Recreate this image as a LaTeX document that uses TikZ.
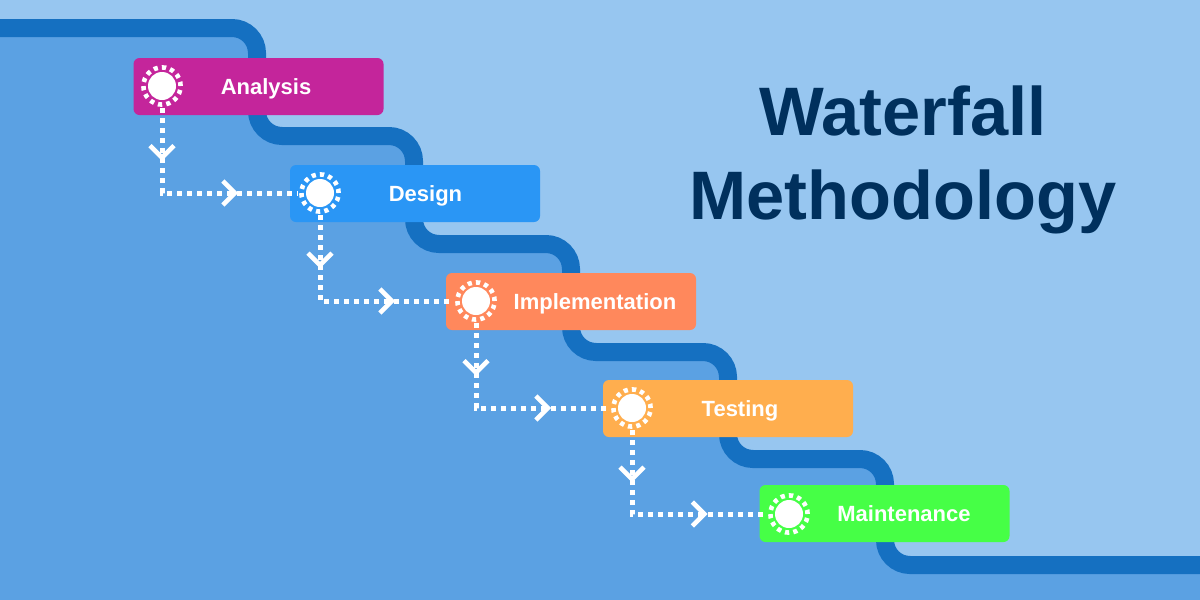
\documentclass[tikz,border=0pt]{standalone}
\usepackage{fontspec}
\setmainfont{Liberation Sans}
\usetikzlibrary{calc}
\definecolor{bglight}{HTML}{97C6F0}
\definecolor{bgmid}{HTML}{5BA1E3}
\definecolor{stairblue}{HTML}{1570C1}
\definecolor{titleblue}{HTML}{00305D}
\definecolor{cana}{HTML}{C4259B}
\definecolor{cdes}{HTML}{2A96F5}
\definecolor{cimp}{HTML}{FF885C}
\definecolor{ctes}{HTML}{FFAE4E}
\definecolor{cmai}{HTML}{46FF46}
\tikzset{
  phasebox/.style={rectangle, rounded corners=6pt, minimum width=250pt, minimum height=57pt, inner sep=0pt},
  disc/.style={circle, fill=white, minimum size=28pt, inner sep=0pt},
  halo/.style={circle, minimum size=44pt, inner sep=0pt},
  ring/.style={draw=white, line width=4.6pt, dash pattern=on 4.2pt off 4.15pt},
  phaselabel/.style={text=white, font=\fontsize{22}{24}\selectfont\bfseries, anchor=base, inner sep=0pt},
  flow/.style={draw=white, line width=5pt, dash pattern=on 5pt off 5pt},
  chev/.style={draw=white, line width=4.5pt},
  stair/.style={draw=stairblue, line width=18pt, rounded corners=25pt},
  titletext/.style={text=titleblue, font=\fontsize{68.6}{70}\selectfont\bfseries, anchor=base, inner sep=0pt}
}
\begin{document}
\begin{tikzpicture}[x=1pt,y=-1pt]
\useasboundingbox (0,0) rectangle (1200,600);
\fill[bglight] (0,0) rectangle (1200,600);
% lower-left region
\fill[bgmid, rounded corners=25pt] (-30,28) -- (257,28) -- (257,136) -- (414,136) -- (414,244) -- (571,244) -- (571,352) -- (728,352) -- (728,459) -- (885,459) -- (885,565) -- (1230,565) -- (1230,630) -- (-30,630) -- cycle;
% stair line
\draw[stair] (-30,28) -- (257,28) -- (257,136) -- (414,136) -- (414,244) -- (571,244) -- (571,352) -- (728,352) -- (728,459) -- (885,459) -- (885,565) -- (1230,565);

% title
\node[titletext] (t1) at (903,135) {Waterfall};
\node[titletext] (t2) at (903,219) {Methodology};

% boxes
\node[phasebox, fill=cana] (b1) at (258.5,86.5) {};
\node[phasebox, fill=cdes] (b2) at (415,193.5) {};
\node[phasebox, fill=cimp] (b3) at (571,301.5) {};
\node[phasebox, fill=ctes] (b4) at (728,408.5) {};
\node[phasebox, fill=cmai] (b5) at (884.5,513.5) {};

% labels
\node[phaselabel] (l1) at (266,94.5) {Analysis};
\node[phaselabel] (l2) at (425.5,201.5) {Design};
\node[phaselabel] (l3) at (595,309.5) {Implementation};
\node[phaselabel] (l4) at (740,416.5) {Testing};
\node[phaselabel] (l5) at (904,521.5) {Maintenance};

% icon halos (invisible anchors)
\node[halo] (h1) at (162,86) {};
\node[halo] (h2) at (320,193) {};
\node[halo] (h3) at (476,301) {};
\node[halo] (h4) at (632,408) {};
\node[halo] (h5) at (789,514) {};

% connectors
\foreach \a/\b in {h1/h2, h2/h3, h3/h4, h4/h5}{
  \coordinate (k-\a) at (\a |- \b);
  \draw[flow] (\a.south) |- (\b.west);
  \coordinate (p-\a) at ($($(\a.south)!0.5!(k-\a)$)+(0,7)$);
  \coordinate (q-\a) at ($($(k-\a)!0.5!(\b.west)$)+(5,0)$);
  \draw[chev] ([shift={(-12,-12)}]p-\a) -- (p-\a) -- ([shift={(12,-12)}]p-\a);
  \draw[chev] ([shift={(-12,-12)}]q-\a) -- (q-\a) -- ([shift={(-12,12)}]q-\a);
}

% icons
\foreach \h/\n in {h1/i1, h2/i2, h3/i3, h4/i4, h5/i5}{
  \node[disc] (\n) at (\h) {};
  \draw[ring] (\h) circle[radius=18.6pt];
}
\end{tikzpicture}
\end{document}
